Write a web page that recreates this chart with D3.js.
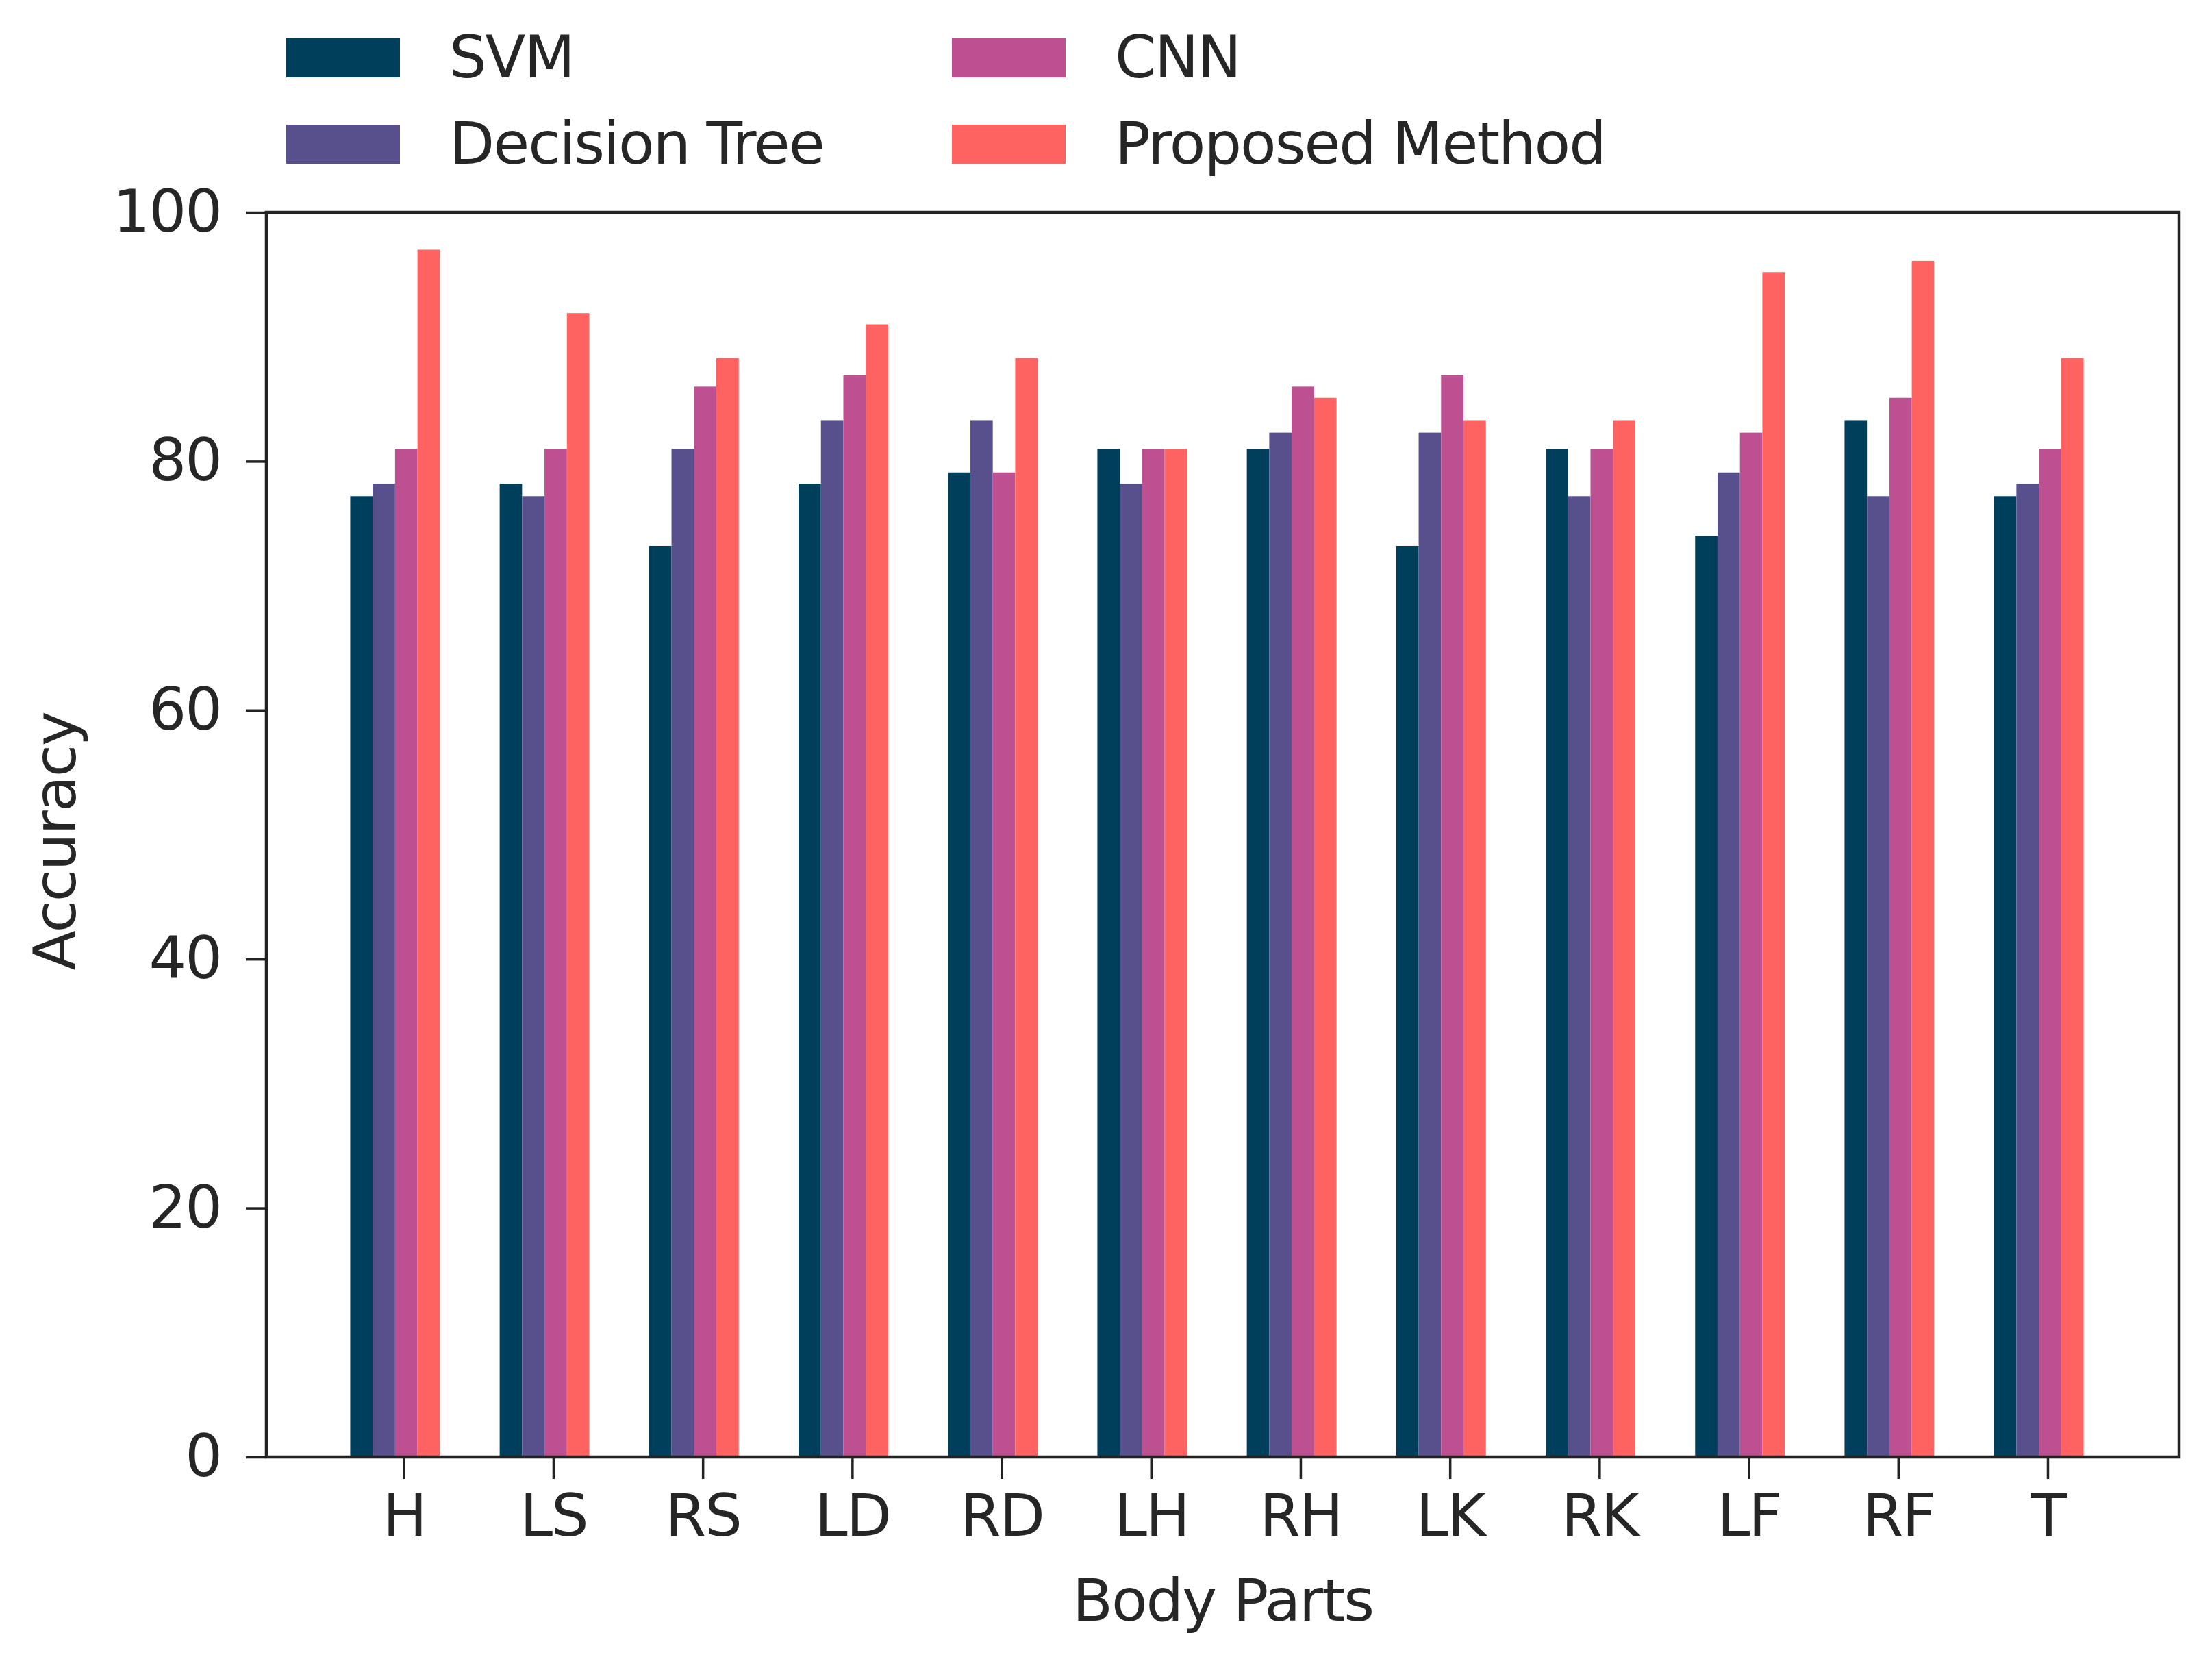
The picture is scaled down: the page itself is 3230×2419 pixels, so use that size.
<!DOCTYPE html>
<html>
<head>
<meta charset="utf-8">
<script src="https://cdn.jsdelivr.net/npm/d3@7/dist/d3.min.js"></script>
<style>
  html, body { margin: 0; padding: 0; background: #fff; }
  svg { display: block; }
  text { font-family: "DejaVu Sans", sans-serif; fill: #262626; letter-spacing: -2px; }
</style>
</head>
<body>
<svg id="chart" width="3230" height="2419"></svg>
<script>
var categories = ['H', 'LS', 'RS', 'LD', 'RD', 'LH', 'RH', 'LK', 'RK', 'LF', 'RF', 'T'];
var seriesNames = ['SVM', 'Decision Tree', 'CNN', 'Proposed Method'];
var seriesColors = ['#003f5c', '#58508d', '#bc5090', '#ff6361'];

var svmValues = [77.2, 78.2, 73.2, 78.2, 79.1, 81.0, 81.0, 73.2, 81.0, 74.0, 83.3, 77.2];
var treeValues = [78.2, 77.2, 81.0, 83.3, 83.3, 78.2, 82.3, 82.3, 77.2, 79.1, 77.2, 78.2];
var cnnValues = [81.0, 81.0, 86.0, 86.9, 79.1, 81.0, 86.0, 86.9, 81.0, 82.3, 85.1, 81.0];
var proposedValues = [97.0, 91.9, 88.3, 91.0, 88.3, 81.0, 85.1, 83.3, 83.3, 95.2, 96.1, 88.3];

var yTicks = [0, 20, 40, 60, 80, 100];

var series = [svmValues, treeValues, cnnValues, proposedValues];

var frame = { left: 389, right: 3182, top: 310, bottom: 2127 };
var barWidth = 0.15;
var firstOffset = -0.284; // centre of the SVM bar relative to the tick

var svg = d3.select('#chart');

var x = d3.scaleLinear()
  .domain([-0.92, 11.88])
  .range([frame.left, frame.right]);

var y = d3.scaleLinear()
  .domain([0, 100])
  .range([frame.bottom, frame.top]);

// bars
var groups = svg.append('g')
  .selectAll('g.series')
  .data(series)
  .enter()
  .append('g')
  .attr('class', 'series')
  .attr('fill', function(d, k) { return seriesColors[k]; });

groups.each(function(vals, k) {
  d3.select(this).selectAll('rect')
    .data(vals)
    .enter()
    .append('rect')
    .attr('x', function(d, i) { return x(i + firstOffset + k * barWidth - barWidth / 2); })
    .attr('width', x(barWidth) - x(0))
    .attr('y', function(d) { return y(d); })
    .attr('height', function(d) { return y(0) - y(d); });
});

// axes
var fontSize = 86;

var yAxis = svg.append('g')
  .attr('transform', 'translate(' + frame.left + ',0)')
  .call(d3.axisLeft(y).tickValues(yTicks).tickSize(30).tickPadding(36));

var xAxis = svg.append('g')
  .attr('transform', 'translate(0,' + frame.bottom + ')')
  .call(d3.axisBottom(x)
    .tickValues(d3.range(categories.length))
    .tickFormat(function(i) { return categories[i]; })
    .tickSize(32)
    .tickPadding(22));

[yAxis, xAxis].forEach(function(ax) {
  ax.select('.domain').remove();
  ax.selectAll('.tick line').attr('stroke', '#222').attr('stroke-width', 3.5);
  ax.selectAll('.tick text')
    .attr('fill', '#262626')
    .style('font-family', '"DejaVu Sans", sans-serif')
    .style('font-size', fontSize + 'px');
});

// frame
svg.append('rect')
  .attr('x', frame.left)
  .attr('y', frame.top)
  .attr('width', frame.right - frame.left)
  .attr('height', frame.bottom - frame.top)
  .attr('fill', 'none')
  .attr('stroke', '#222')
  .attr('stroke-width', 4.5);

// axis titles
svg.append('text')
  .attr('x', (frame.left + frame.right) / 2)
  .attr('y', 2366)
  .attr('text-anchor', 'middle')
  .style('font-size', fontSize + 'px')
  .text('Body Parts');

svg.append('text')
  .attr('transform', 'translate(110,' + ((frame.top + frame.bottom) / 2 + 10) + ') rotate(-90)')
  .attr('text-anchor', 'middle')
  .style('font-size', fontSize + 'px')
  .text('Accuracy');

// legend, two columns
var legendCols = [418, 1390];
var legendRows = [84, 210];

var legend = svg.append('g')
  .selectAll('g.legend-item')
  .data(seriesNames)
  .enter()
  .append('g')
  .attr('class', 'legend-item')
  .attr('transform', function(d, k) {
    return 'translate(' + legendCols[Math.floor(k / 2)] + ',' + legendRows[k % 2] + ')';
  });

legend.append('rect')
  .attr('x', 0)
  .attr('y', -28)
  .attr('width', 166)
  .attr('height', 57)
  .attr('fill', function(d, k) { return seriesColors[k]; });

legend.append('text')
  .attr('x', 238)
  .attr('y', 29)
  .style('font-size', fontSize + 'px')
  .text(function(d) { return d; });
</script>
</body>
</html>
